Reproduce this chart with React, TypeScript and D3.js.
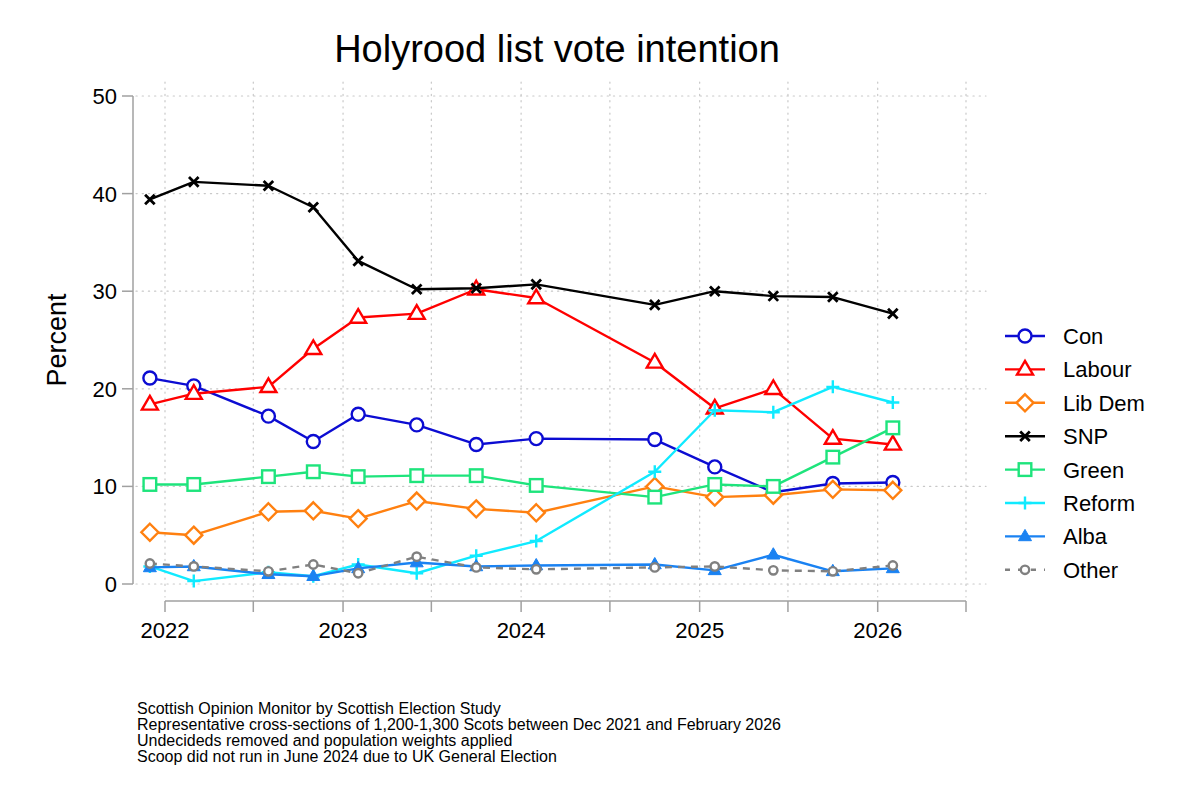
import React, { useEffect } from "react";
import * as d3 from "d3";

// survey fieldwork dates (approximate mid-points)
const dates = [
  "2021-12-01", "2022-03-01", "2022-08-01", "2022-11-01", "2023-02-01",
  "2023-06-01", "2023-10-01", "2024-02-01", "2024-10-01", "2025-02-01",
  "2025-06-01", "2025-10-01", "2026-02-01",
];

const con = [21.1, 20.3, 17.2, 14.6, 17.4, 16.3, 14.3, 14.9, 14.8, 12.0, 9.4, 10.3, 10.4];
const labour = [18.4, 19.5, 20.2, 24.1, 27.3, 27.7, 30.2, 29.3, 22.7, 18.0, 20.0, 14.9, 14.3];
const libDem = [5.3, 5.0, 7.4, 7.5, 6.7, 8.5, 7.7, 7.3, 10.0, 8.9, 9.1, 9.7, 9.6];
const snp = [39.4, 41.2, 40.8, 38.6, 33.1, 30.2, 30.3, 30.7, 28.6, 30.0, 29.5, 29.4, 27.7];
const green = [10.2, 10.2, 11.0, 11.5, 11.0, 11.1, 11.1, 10.1, 8.9, 10.2, 10.0, 13.0, 16.0];
const reform = [1.8, 0.3, 1.2, 0.8, 2.0, 1.1, 2.9, 4.4, 11.5, 17.8, 17.6, 20.2, 18.6];
const alba = [1.7, 1.8, 1.0, 0.8, 1.6, 2.2, 1.8, 1.9, 2.0, 1.4, 3.0, 1.3, 1.6];
const other = [2.1, 1.8, 1.3, 2.0, 1.1, 2.8, 1.7, 1.5, 1.7, 1.8, 1.4, 1.3, 1.9];

const yTicks = [0, 10, 20, 30, 40, 50];
const yearLabels = ["2022", "2023", "2024", "2025", "2026"];
const halfYears = ["2022-07-01", "2023-07-01", "2024-07-01", "2025-07-01", "2026-07-01"];

const notes = [
  "Scottish Opinion Monitor by Scottish Election Study",
  "Representative cross-sections of 1,200-1,300 Scots between Dec 2021 and February 2026",
  "Undecideds removed and population weights applied",
  "Scoop did not run in June 2024 due to UK General Election",
];

type Series = { name: string; values: number[]; color: string; marker: string; dash?: string };

const series: Series[] = [
  { name: "Con", values: con, color: "#0c0cd2", marker: "circle" },
  { name: "Labour", values: labour, color: "#ff0000", marker: "triangle" },
  { name: "Lib Dem", values: libDem, color: "#ff8010", marker: "diamond" },
  { name: "SNP", values: snp, color: "#000000", marker: "x" },
  { name: "Green", values: green, color: "#1ee47c", marker: "square" },
  { name: "Reform", values: reform, color: "#10eaff", marker: "plus" },
  { name: "Alba", values: alba, color: "#1a82f2", marker: "filledTriangle" },
  { name: "Other", values: other, color: "#808080", marker: "smallCircle", dash: "7,6" },
];

const FONT = "'Liberation Sans', Arial, Helvetica, sans-serif";
const parse = d3.timeParse("%Y-%m-%d");
const SW = 2.4;

function Marker({ type, x, y, color }: { type: string; x: number; y: number; color: string }) {
  const t = `translate(${x},${y})`;
  switch (type) {
    case "circle":
      return <circle cx={x} cy={y} r={6.5} fill="white" stroke={color} strokeWidth={SW} />;
    case "smallCircle":
      return <circle cx={x} cy={y} r={4.2} fill="white" stroke={color} strokeWidth={SW} />;
    case "triangle":
      return <path transform={t} d="M0,-8.5L8,5.2L-8,5.2Z" fill="white" stroke={color} strokeWidth={SW} />;
    case "filledTriangle":
      return <path transform={t} d="M0,-7L6.5,4.3L-6.5,4.3Z" fill={color} stroke={color} strokeWidth={1} />;
    case "diamond":
      return <path transform={t} d="M0,-8.5L8.5,0L0,8.5L-8.5,0Z" fill="white" stroke={color} strokeWidth={SW} />;
    case "square":
      return <rect x={x - 6.3} y={y - 6.3} width={12.6} height={12.6} fill="white" stroke={color} strokeWidth={SW} />;
    case "x":
      return <path transform={t} d="M-4.8,-4.8L4.8,4.8M-4.8,4.8L4.8,-4.8" stroke={color} strokeWidth={2.8} />;
    case "plus":
      return <path transform={t} d="M-6.5,0L6.5,0M0,-6.5L0,6.5" stroke={color} strokeWidth={SW} />;
    default:
      return null;
  }
}

export default function App() {
  useEffect(() => {
    document.body.style.margin = "0";
  }, []);

  const width = 1200;
  const height = 800;

  const x = d3
    .scaleTime()
    .domain([parse("2022-01-01")!, parse("2026-07-01")!])
    .range([165, 966]);
  const y = d3.scaleLinear().domain([0, 50]).range([584, 96]);

  const plotLeft = 133;
  const plotRight = 986;
  const plotTop = 82;
  const plotBottom = 597;
  const axisY = 601;

  const dateObjs = dates.map((d) => parse(d)!);
  const yearDates = yearLabels.map((yr) => parse(`${yr}-01-01`)!);
  const halfDates = halfYears.map((d) => parse(d)!);
  const gridDates = [...yearDates, ...halfDates];

  const line = d3
    .line<number>()
    .x((_, i) => x(dateObjs[i]))
    .y((v) => y(v));

  const legendX = 1005;
  const legendY0 = 336;
  const legendStep = 33.4;

  return (
    <svg width={width} height={height} style={{ display: "block", background: "white" }} fontFamily={FONT}>
      <rect width={width} height={height} fill="white" />

      <text x={557} y={62} textAnchor="middle" fontSize={38} fill="#000">
        Holyrood list vote intention
      </text>

      {/* grid */}
      <g stroke="#c8c8c8" strokeWidth={1.2} strokeDasharray="1.2,5" strokeLinecap="round">
        {yTicks.map((t) => (
          <line key={`h${t}`} x1={plotLeft + 3} x2={plotRight} y1={y(t)} y2={y(t)} />
        ))}
        {gridDates.map((d, i) => (
          <line key={`v${i}`} x1={x(d)} x2={x(d)} y1={plotTop} y2={plotBottom} />
        ))}
      </g>

      {/* y axis */}
      <g stroke="#a0a0a0" strokeWidth={1.5}>
        <line x1={plotLeft} x2={plotLeft} y1={y(50)} y2={y(0)} />
        {yTicks.map((t) => (
          <line key={t} x1={plotLeft - 11} x2={plotLeft} y1={y(t)} y2={y(t)} />
        ))}
      </g>
      {yTicks.map((t) => (
        <text key={t} x={117} y={y(t)} dy="0.36em" textAnchor="end" fontSize={22} fill="#000">
          {t}
        </text>
      ))}
      <text
        transform={`translate(66,${(y(0) + y(50)) / 2}) rotate(-90)`}
        textAnchor="middle"
        fontSize={27}
        fill="#000"
      >
        Percent
      </text>

      {/* x axis */}
      <g stroke="#a0a0a0" strokeWidth={1.5}>
        <line x1={x(yearDates[0])} x2={x(halfDates[halfDates.length - 1])} y1={axisY} y2={axisY} />
        {gridDates.map((d, i) => (
          <line key={i} x1={x(d)} x2={x(d)} y1={axisY} y2={axisY + 11} />
        ))}
      </g>
      {yearDates.map((d, i) => (
        <text key={i} x={x(d)} y={638} textAnchor="middle" fontSize={22} fill="#000">
          {yearLabels[i]}
        </text>
      ))}

      {/* series */}
      {series.map((s) => (
        <g key={s.name}>
          <path
            d={line(s.values) || ""}
            fill="none"
            stroke={s.color}
            strokeWidth={SW}
            strokeDasharray={s.dash}
            strokeLinejoin="round"
          />
          {s.values.map((v, i) => (
            <Marker key={i} type={s.marker} x={x(dateObjs[i])} y={y(v)} color={s.color} />
          ))}
        </g>
      ))}

      {/* legend */}
      {series.map((s, i) => {
        const ly = legendY0 + i * legendStep;
        return (
          <g key={s.name}>
            <line
              x1={legendX}
              x2={legendX + 40}
              y1={ly}
              y2={ly}
              stroke={s.color}
              strokeWidth={SW}
              strokeDasharray={s.dash ? "5,8" : undefined}
            />
            <Marker type={s.marker} x={legendX + 20} y={ly} color={s.color} />
            <text x={1063} y={ly} dy="0.36em" fontSize={22} fill="#000">
              {s.name}
            </text>
          </g>
        );
      })}

      {/* notes */}
      {notes.map((n, i) => (
        <text key={i} x={137} y={714 + i * 16} fontSize={16} fill="#000">
          {n}
        </text>
      ))}
    </svg>
  );
}
